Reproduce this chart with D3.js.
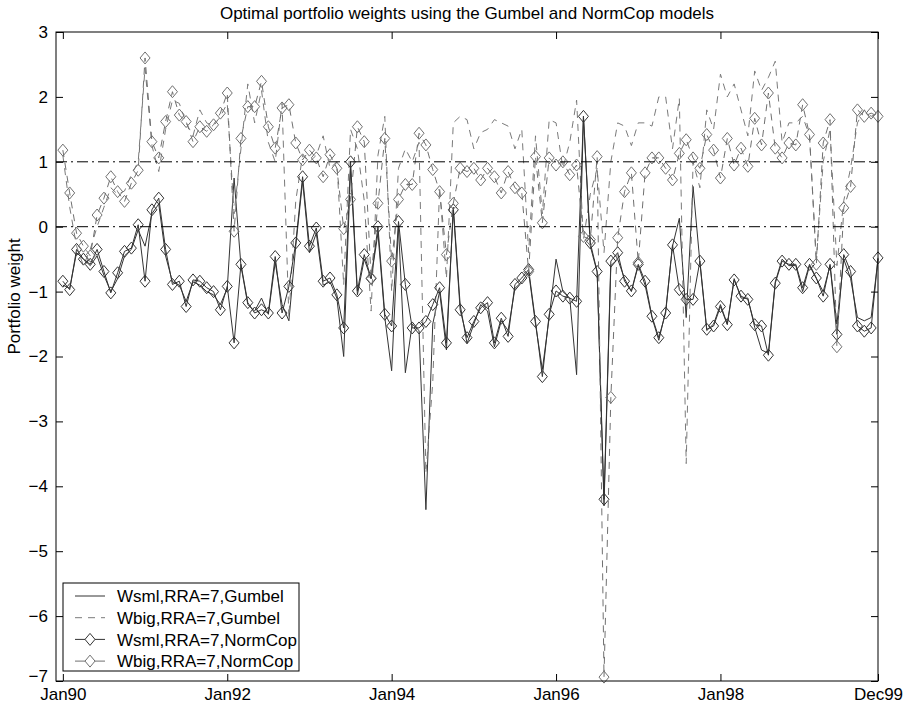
<!DOCTYPE html>
<html>
<head>
<meta charset="utf-8">
<script src="https://cdn.jsdelivr.net/npm/d3@7"></script>
<style>
  body { margin: 0; background: #fff; }
  text { font-family: "Liberation Sans", Arial, sans-serif; fill: #000; }
</style>
</head>
<body>
<div id="app"></div>
<script>
// month index 0 = Jan90 ... 119 = Dec99
const xTicks = [0, 24, 48, 72, 96, 119];
const xTickLabels = ["Jan90", "Jan92", "Jan94", "Jan96", "Jan98", "Dec99"];
const yTicks = [-7, -6, -5, -4, -3, -2, -1, 0, 1, 2, 3];
const refLines = [0, 1];

const seriesNames = [
  "Wsml,RRA=7,Gumbel",
  "Wbig,RRA=7,Gumbel",
  "Wsml,RRA=7,NormCop",
  "Wbig,RRA=7,NormCop"
];

const wsmlGumbel = [
  -0.9, -0.95, -0.4, -0.5, -0.6, -0.45, -0.75, -1.0, -0.8, -0.45, -0.35, -0.05, -0.3, 0.2, 0.35, -0.45, -0.85, -0.9, -1.15, -0.85,
  -0.9, -1.0, -1.05, -1.2, -0.95, 0.75, -0.6, -1.2, -1.3, -1.1, -1.35, -0.55, -1.2, -1.45, -0.3, 0.7, -0.4, -0.1, -0.9, -0.85,
  -1.1, -2.0, 0.9, -1.05, -0.5, -0.8, -0.1, -1.4, -2.22, 0.0, -2.25, -1.5, -1.6, -4.36, -1.5, -1.0, -1.9, 0.3, -1.2, -1.8,
  -1.5, -1.2, -1.3, -1.85, -1.45, -1.6, -0.95, -0.85, -0.7, -1.5, -2.2, -1.4, -0.5, -1.0, -1.1, -2.28, 1.7, -0.3, -0.7, -4.3,
  -0.6, -0.5, -0.8, -1.0, -0.6, -0.9, -1.4, -1.75, -1.3, -0.3, 0.13, -1.4, 0.62, -0.55, -1.6, -1.5, -1.2, -1.5, -0.8, -1.1,
  -1.1, -1.55, -1.9, -1.95, -0.85, -0.5, -0.6, -0.6, -1.0, -0.6, -0.8, -1.0, -0.6, -1.5, -0.5, -0.8, -1.4, -1.45, -1.4, -0.5
];

const wbigGumbel = [
  1.1, 0.3, -0.3, -0.6, -0.35, 0.0, 0.3, 0.6, 0.5, 0.55, 0.8, 1.0, 2.45, 1.25, 0.85, 1.5, 1.95, 1.9, 1.6, 1.4,
  1.8, 1.6, 1.55, 1.7, 1.9, 0.2, 1.2, 2.2, 1.6, 2.1, 1.3, 1.0, 1.9, -1.4, 0.4, 1.1, 1.0, 1.1, 1.4, 0.9,
  1.0, -0.9, 1.5, 1.2, 0.4, -1.3, 1.1, 1.7, -1.0, 0.9, 1.2, 1.0, 1.3, -3.8, -2.4, 0.6, -0.8, 1.6, 1.7, 1.65,
  1.2, 1.45, 1.5, 1.65, 1.6, 1.55, 1.2, 1.5, -0.4, 1.4, 0.2, 1.65, 1.6, 0.9, 1.3, 1.95, -0.2, 0.5, 0.9, -0.4,
  1.0, 1.6, 1.55, 1.25, 1.6, 1.6, 1.55, 2.0, 2.0, 1.2, 1.98, -3.65, 1.0, 0.6, 1.8, 1.5, 2.35, 2.0, 2.2, 1.8,
  1.4, 2.4, 2.1, 2.3, 2.55, 1.3, 1.6, 1.6, 1.7, 1.4, -0.5, 1.0, 1.5, -0.6, 0.4, 0.9, 1.6, 1.8, 1.7, 1.75
];

const wsmlNormCop = [
  -0.84, -0.97, -0.35, -0.5, -0.58, -0.35, -0.69, -1.02, -0.71, -0.38, -0.33, 0.03, -0.84, 0.26, 0.44, -0.35, -0.89, -0.84, -1.23, -0.82,
  -0.84, -0.94, -1.0, -1.28, -0.92, -1.79, -0.58, -1.17, -1.33, -1.28, -1.33, -0.46, -1.33, -0.92, -0.25, 0.77, -0.3, -0.02, -0.84, -0.79,
  -1.05, -1.56, 1.0, -0.99, -0.43, -0.8, 0.0, -1.35, -1.53, 0.08, -0.89, -1.56, -1.56, -1.46, -1.2, -0.94, -1.79, 0.26, -1.28, -1.71,
  -1.46, -1.25, -1.17, -1.79, -1.41, -1.69, -0.89, -0.79, -0.66, -1.46, -2.31, -1.35, -0.99, -1.07, -1.1, -1.15, 1.7, -0.25, -0.69, -4.2,
  -0.53, -0.4, -0.84, -0.99, -0.58, -0.84, -1.38, -1.71, -1.33, -0.28, -0.97, -1.12, -1.12, -0.53, -1.58, -1.53, -1.23, -1.51, -0.82, -1.07,
  -1.12, -1.51, -1.53, -1.98, -0.87, -0.53, -0.58, -0.58, -0.94, -0.58, -0.79, -1.07, -0.58, -1.66, -0.43, -0.69, -1.53, -1.61, -1.56, -0.48
];

const wbigNormCop = [
  1.18, 0.52, -0.1, -0.3, -0.45, 0.18, 0.44, 0.77, 0.54, 0.39, 0.67, 0.87, 2.6, 1.31, 1.06, 1.62, 2.08, 1.72, 1.62, 1.31,
  1.54, 1.47, 1.57, 1.75, 2.06, -0.07, 1.36, 1.85, 1.85, 2.24, 1.54, 1.21, 1.83, 1.88, 1.29, 1.03, 1.18, 1.06, 0.77, 1.11,
  0.9, -0.03, 0.42, 1.54, 1.31, -0.79, 0.36, 1.36, -0.53, 0.42, 0.65, 0.65, 1.44, 1.26, 0.88, 0.54, -0.43, 0.36, 0.9, 0.85,
  0.9, 0.72, 0.9, 0.77, 0.52, 0.85, 0.6, 0.52, -0.69, 1.08, 0.06, 1.06, 0.95, 1.0, 0.8, 0.95, -0.15, -0.2, 1.08, -6.94,
  -2.63, -0.17, 0.54, 0.83, -0.55, 0.83, 1.06, 1.06, 0.9, 0.72, 1.13, 1.34, 1.06, 0.9, 1.42, 1.18, 0.75, 1.36, 0.95, 1.21,
  0.93, 1.67, 1.26, 2.06, 1.21, 1.06, 1.29, 1.26, 1.88, 1.42, -0.58, 1.29, 1.65, -1.85, 0.29, 0.62, 1.8, 1.7, 1.75, 1.7
];

const width = 912, height = 709;
const plotLeft = 56, plotRight = 878, plotTop = 32, plotBottom = 681;

const svg = d3.select("#app").append("svg")
  .attr("width", width).attr("height", height);

const x = d3.scaleLinear().domain([-1, 119]).range([plotLeft, plotRight]);
const y = d3.scaleLinear().domain([-7, 3]).range([plotBottom, plotTop]);

const series = [
  { name: seriesNames[0], values: wsmlGumbel, color: "#333", dash: null, legendDash: null, marker: false },
  { name: seriesNames[1], values: wbigGumbel, color: "#7a7a7a", dash: "7,6", legendDash: "7,6", marker: false },
  { name: seriesNames[2], values: wsmlNormCop, color: "#333", dash: null, legendDash: null, marker: true },
  { name: seriesNames[3], values: wbigNormCop, color: "#707070", dash: "7,6", legendDash: null, marker: true }
];

const line = d3.line().x((d, i) => x(i)).y((d) => y(d));
const diamond = (cx, cy) => `M${cx},${cy - 6}L${cx + 5},${cy}L${cx},${cy + 6}L${cx - 5},${cy}Z`;

const plot = svg.append("g");

series.forEach((s) => {
  plot.append("path")
    .datum(s.values)
    .attr("d", line)
    .attr("fill", "none")
    .attr("stroke", s.color)
    .attr("stroke-width", 1)
    .attr("stroke-dasharray", s.dash);
  if (s.marker) {
    plot.selectAll(null)
      .data(s.values)
      .enter()
      .append("path")
      .attr("d", (d, i) => diamond(x(i), y(d)))
      .attr("fill", "none")
      .attr("stroke", s.color)
      .attr("stroke-width", 1);
  }
});

// dash-dot reference lines
plot.selectAll(".ref")
  .data(refLines)
  .enter()
  .append("line")
  .attr("x1", plotLeft).attr("x2", plotRight)
  .attr("y1", (d) => y(d)).attr("y2", (d) => y(d))
  .attr("stroke", "#000")
  .attr("stroke-dasharray", "11,4,2,4");

// axes with inward ticks on all four sides
const xAxisBottom = d3.axisBottom(x).tickValues(xTicks).tickFormat((d, i) => xTickLabels[i])
  .tickSizeInner(-7).tickSizeOuter(0).tickPadding(9);
const xAxisTop = d3.axisTop(x).tickValues(xTicks).tickFormat("").tickSizeInner(-7).tickSizeOuter(0);
const yAxisLeft = d3.axisLeft(y).tickValues(yTicks).tickFormat((d) => String(d).replace("-", "\u2212"))
  .tickSizeInner(-7).tickSizeOuter(0).tickPadding(8);
const yAxisRight = d3.axisRight(y).tickValues(yTicks).tickFormat("").tickSizeInner(-7).tickSizeOuter(0);

const styleAxis = (g) => {
  g.select(".domain").remove();
  g.selectAll("line").attr("stroke", "#000");
  g.selectAll("text").attr("font-size", 17).attr("font-family", "Liberation Sans, Arial, sans-serif").attr("fill", "#000");
};

svg.append("g").attr("transform", `translate(0,${plotBottom})`).call(xAxisBottom).call(styleAxis)
  .selectAll("text").attr("dy", "0.6em");
svg.append("g").attr("transform", `translate(0,${plotTop})`).call(xAxisTop).call(styleAxis);
svg.append("g").attr("transform", `translate(${plotLeft},0)`).call(yAxisLeft).call(styleAxis)
  .selectAll("text").attr("dy", (d) => (d === -7 ? "0.05em" : "0.32em"));
svg.append("g").attr("transform", `translate(${plotRight},0)`).call(yAxisRight).call(styleAxis);

svg.append("rect")
  .attr("x", plotLeft).attr("y", plotTop)
  .attr("width", plotRight - plotLeft).attr("height", plotBottom - plotTop)
  .attr("fill", "none").attr("stroke", "#000").attr("stroke-width", 1);

svg.append("text")
  .attr("x", (plotLeft + plotRight) / 2).attr("y", 19)
  .attr("text-anchor", "middle").attr("font-size", 17)
  .text("Optimal portfolio weights using the Gumbel and NormCop models");

svg.append("text")
  .attr("transform", `translate(20,${(plotTop + plotBottom) / 2 - 60}) rotate(-90)`)
  .attr("text-anchor", "middle").attr("font-size", 17)
  .text("Portfolio weight");

// legend
const legend = svg.append("g").attr("transform", "translate(63,583)");
legend.append("rect")
  .attr("width", 236).attr("height", 88)
  .attr("fill", "#fff").attr("stroke", "#000");

const rows = legend.selectAll(".row")
  .data(series)
  .enter()
  .append("g")
  .attr("transform", (d, i) => `translate(0,${13 + i * 21.7})`);

rows.append("line")
  .attr("x1", 12).attr("x2", 42)
  .attr("stroke", (d) => d.color)
  .attr("stroke-dasharray", (d) => d.legendDash);

rows.filter((d) => d.marker)
  .append("path")
  .attr("d", diamond(27, 0))
  .attr("fill", "#fff")
  .attr("stroke", (d) => d.color);

rows.append("text")
  .attr("x", 54).attr("dy", "0.36em")
  .attr("font-size", 17)
  .text((d) => d.name);
</script>
</body>
</html>
